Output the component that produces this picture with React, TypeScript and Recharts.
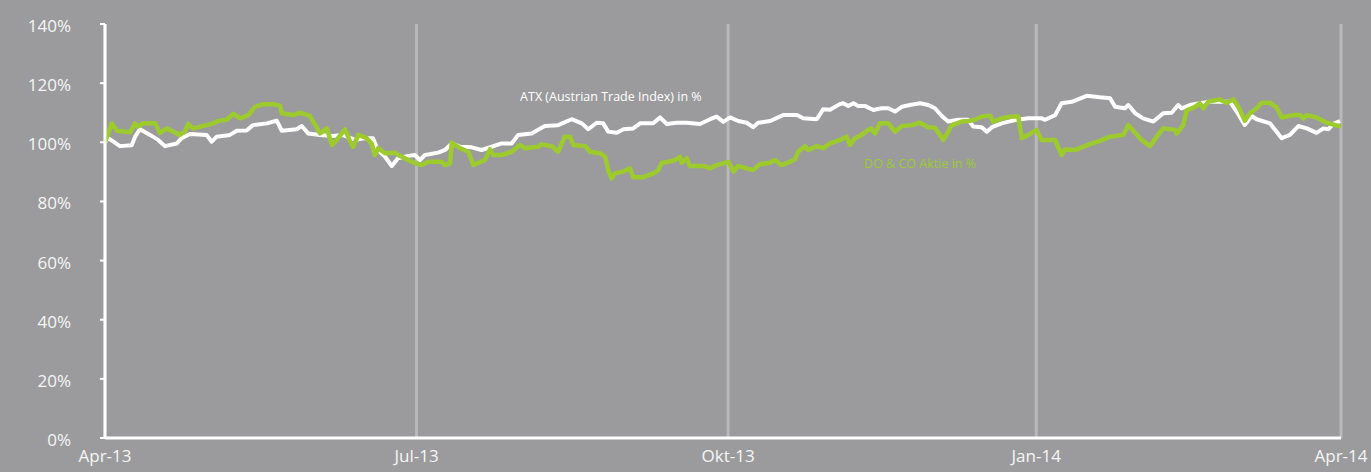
import React from 'react';
import { LineChart, Line, XAxis, YAxis, CartesianGrid, ReferenceDot } from 'recharts';

// x = days since 1 Apr 2013
const tickDays = [0, 92, 184, 275, 365];
const tickLabels = ['Apr-13', 'Jul-13', 'Okt-13', 'Jan-14', 'Apr-14'];
const yTicks = [0, 20, 40, 60, 80, 100, 120, 140];

const atxDays = [
  0, 0.9, 2.5, 4.4, 7.9, 8.9, 10.3, 13.3, 15.7, 17.7, 21.2, 22.6, 25.1, 30, 31.5, 33, 36.9, 38.9, 41.8, 43.7,
  47.8, 50.7, 52.2, 56.6, 58.1, 60, 63.5, 67.3, 70.3, 72.3, 73.8, 76.8, 79.1, 80.6, 82.7, 84.7, 86.5, 89.6, 91.5, 93,
  94.5, 98.4, 100.4, 102.4, 104.8, 108.3, 111.2, 114.2, 117.1, 120.1, 122, 126, 127.9, 129.9, 133.8, 137.8, 140.8, 142.7, 145.2, 147.1,
  148.6, 151.1, 153.1, 156, 158, 161.9, 163.9, 165.9, 168.8, 171.8, 175.7, 178.7, 180.6, 182.6, 184.6, 187, 189.5, 191.4, 192.9, 196.4,
  200.3, 204.3, 206.2, 210.2, 212.1, 214.1, 217, 218, 219.5, 221, 222.4, 224.4, 226.9, 229.3, 231.3, 233.3, 235.3, 237.7, 240.7, 243.1,
  245.1, 247.1, 249, 252, 254.9, 256.4, 258.9, 260.4, 261.9, 264.8, 266.8, 269.2, 272.7, 276.6, 277.6, 280.6, 282.5, 285.5, 289.9, 293.8,
  296.8, 298.3, 301.2, 302.2, 304.2, 306.6, 309.6, 312.5, 315, 316.9, 317.9, 320.4, 323.3, 326.3, 332.2, 334.2, 336.6, 338.6, 340.1, 344,
  347.5, 349.9, 352.4, 354.9, 357.8, 359.8, 361.3, 362.7, 364.7,
];
const atxValues = [
  100, 101.4, 100.2, 98.7, 99, 101.9, 104.4, 102.5, 100.8, 98.7, 99.6, 101.4, 102.8, 102.5, 100.2, 101.9, 102.5, 103.9, 104, 105.8,
  106.4, 107.3, 103.9, 104.4, 105.5, 103, 102.5, 102.1, 102.5, 101.5, 100.8, 101.4, 101.4, 97.4, 95.1, 92, 94.6, 95.4, 95.7, 94,
  95.7, 96.5, 97.4, 99.6, 98.5, 98.3, 97.4, 98.5, 99.6, 99.6, 102.5, 103, 104.2, 105.5, 105.8, 107.8, 106.4, 104.4, 106.6, 106.4,
  103.6, 103.2, 104.4, 104.7, 106.4, 106.4, 108.4, 106.2, 106.6, 106.6, 106.2, 107.8, 108.7, 106.9, 108.4, 107.2, 106.6, 105.1, 106.6, 107.2,
  109.2, 109.2, 108.1, 107.8, 111.2, 111, 112.9, 113.2, 112.3, 113.2, 112.3, 112.3, 110.9, 111.5, 111.5, 110.4, 112, 112.6, 113.2, 112.6,
  111.5, 108.9, 107, 107.6, 107.6, 105.3, 105.1, 103.6, 105.1, 106.4, 107, 107.6, 108.1, 108.1, 107.6, 109.2, 113.2, 113.7, 115.7, 115.2,
  114.9, 112, 111.5, 112.6, 109.8, 108.1, 107, 109.8, 110, 112.6, 111.5, 112.6, 113.2, 113.7, 113.7, 110.4, 105.8, 108.9, 107.8, 106.4,
  101.4, 102.5, 105.5, 104.7, 103.2, 104.7, 104.4, 106.2, 107.2,
];

const docoDays = [
  0, 2, 3.5, 7.4, 8.9, 9.7, 11.2, 14.8, 16.2, 18.2, 22.1, 23.6, 24.6, 26, 30, 32, 33.5, 35.9, 37.9, 39.9,
  42.3, 44.3, 46.7, 49.7, 51.7, 52.2, 55.6, 57.6, 60.5, 63.5, 65.5, 67, 68.4, 70.9, 72.4, 73.3, 74.8, 77.3, 78.7, 79.7,
  80.7, 82.7, 85.6, 86.6, 90.6, 93.5, 95.5, 99.4, 100.4, 101.9, 102.4, 104.8, 107.3, 108.8, 112.2, 113.7, 114.7, 117.1, 120.1, 122.5,
  124, 127.9, 128.9, 131.9, 133.8, 135.8, 137.3, 138.3, 141.8, 143.2, 146.2, 147.7, 148.6, 149.6, 150.6, 153.1, 155, 156, 159, 161.9,
  163.4, 164.4, 166.4, 168.3, 169.8, 170.3, 171.8, 172.7, 176.7, 178.7, 180.6, 184.1, 185.6, 187, 189.5, 191.4, 193.4, 196.4, 197.8, 199.8,
  202.3, 203.7, 204.7, 206.7, 207.7, 210.2, 212.1, 214.1, 217.5, 219, 220, 221.5, 223.4, 225.4, 226.4, 227.4, 228.8, 231.3, 233.3, 235.3,
  238.2, 240.7, 243.1, 245.1, 247.6, 250.1, 253, 255, 256.9, 258.9, 261.4, 262.3, 264.8, 267.8, 269.7, 270.7, 272.7, 275.1, 276.6, 280.6,
  282.5, 283.5, 286.5, 290.9, 293.8, 296.8, 300.7, 302.2, 304.2, 306.1, 308.6, 310.6, 312.5, 316, 316.5, 318.4, 319.4, 321.9, 323.3, 324.3,
  325.8, 329.2, 331.2, 333.2, 334.7, 336.6, 338.1, 340.1, 341.6, 344, 346, 347.5, 350.9, 352.9, 353.9, 354.9, 357.8, 360.8, 365,
];
const docoValues = [
  100, 106.4, 103.9, 103.4, 106.4, 105.3, 106.4, 106.4, 103.2, 104.7, 102.5, 103.6, 106.2, 104.7, 105.8, 106.4, 107.3, 107.6, 109.6, 108.1,
  109.2, 112, 112.9, 112.9, 112.3, 109.8, 109.2, 110, 108.9, 103, 104.7, 99.1, 100.8, 104.4, 100.2, 98.5, 102.5, 101.4, 99.6, 95.7,
  98, 96.3, 96.5, 95.7, 93.4, 92.3, 93.4, 93.4, 92.3, 92.9, 99.9, 98, 96.8, 92.3, 94, 97.6, 95.7, 95.7, 96.8, 99.1,
  98, 98.5, 99.3, 98.7, 96.8, 101.9, 101.9, 99.1, 98.7, 96.8, 96.3, 95.1, 90.6, 87.8, 89.5, 90.1, 91.2, 88.2, 88.2, 89.5,
  90.6, 93.1, 93.4, 94, 95.1, 93.1, 94.6, 92, 92, 91.2, 92.3, 93.4, 90.1, 92, 91.2, 90.6, 92.6, 93.1, 94, 92.3,
  93.4, 94.2, 96.8, 98.7, 97.4, 98.7, 98, 99.6, 101, 101.9, 99.1, 101.4, 102.5, 104.2, 104.7, 103, 106.4, 106.4, 103.6, 105.5,
  105.8, 106.6, 105.1, 104.9, 100.8, 105.8, 107, 107.2, 107.6, 108.7, 109, 107, 108.1, 108.7, 108.7, 101.4, 102.5, 104.2, 100.8, 100.8,
  95.7, 97.6, 97.4, 99.4, 100.5, 101.9, 102.5, 105.8, 103.2, 100.8, 98.7, 101.9, 104.7, 104.2, 103, 105.8, 110.7, 112, 113.2, 111.5,
  113.7, 114.5, 113.4, 114.5, 112, 107.3, 109.8, 111.5, 113.4, 113.4, 111.8, 108.4, 109.2, 109.2, 108.1, 109.2, 108.4, 106.6, 105.3,
];

const atxData = atxDays.map((day, i) => ({ day, value: atxValues[i] }));
const docoData = docoDays.map((day, i) => ({ day, value: docoValues[i] }));

const BG = '#9b9b9d';
const GREEN = '#9dcb2e';
const FONT = '"Open Sans", sans-serif';

export default function App() {
  return (
    <div style={{ position: 'absolute', left: 0, top: 0, width: 1371, height: 472, background: BG, fontFamily: FONT }}>
      <LineChart width={1371} height={472} data={atxData} margin={{ top: 24, right: 30, bottom: 0, left: 0 }}>
        <CartesianGrid horizontal={false} stroke="#b9b9bb" strokeWidth={3} />
        <XAxis
          dataKey="day"
          type="number"
          domain={[0, 365]}
          ticks={tickDays}
          tickFormatter={(v: number) => tickLabels[tickDays.indexOf(v)]}
          axisLine={{ stroke: '#ffffff', strokeWidth: 3 }}
          tickLine={false}
          tickSize={0}
          tickMargin={12}
          height={34}
          interval={0}
          tick={{ fill: '#f6f6f6', fontSize: 17, fontFamily: FONT }}
        />
        <YAxis
          type="number"
          domain={[0, 140]}
          ticks={yTicks}
          tickFormatter={(v: number) => `${v}%`}
          width={105}
          axisLine={{ stroke: '#ffffff', strokeWidth: 3 }}
          tickLine={{ stroke: '#ffffff', strokeWidth: 2 }}
          tickSize={5}
          tickMargin={29}
          interval={0}
          tick={{ fill: '#f6f6f6', fontSize: 17, fontFamily: FONT, dy: 2 }}
        />
        <Line
          data={atxData}
          dataKey="value"
          type="linear"
          stroke="#ffffff"
          strokeWidth={4}
          strokeLinejoin="round"
          dot={false}
          isAnimationActive={false}
        />
        <Line
          data={docoData}
          dataKey="value"
          type="linear"
          stroke={GREEN}
          strokeWidth={4.5}
          strokeLinejoin="round"
          dot={false}
          isAnimationActive={false}
        />
        <ReferenceDot
          x={149.4}
          y={115.5}
          r={0}
          label={{ value: 'ATX (Austrian Trade Index) in %', fill: '#ffffff', fontSize: 12.5, fontFamily: FONT, position: 'center' }}
        />
        <ReferenceDot
          x={240.7}
          y={92.8}
          r={0}
          label={{ value: 'DO & CO Aktie in %', fill: GREEN, fontSize: 12.5, fontFamily: FONT, position: 'center' }}
        />
      </LineChart>
    </div>
  );
}
